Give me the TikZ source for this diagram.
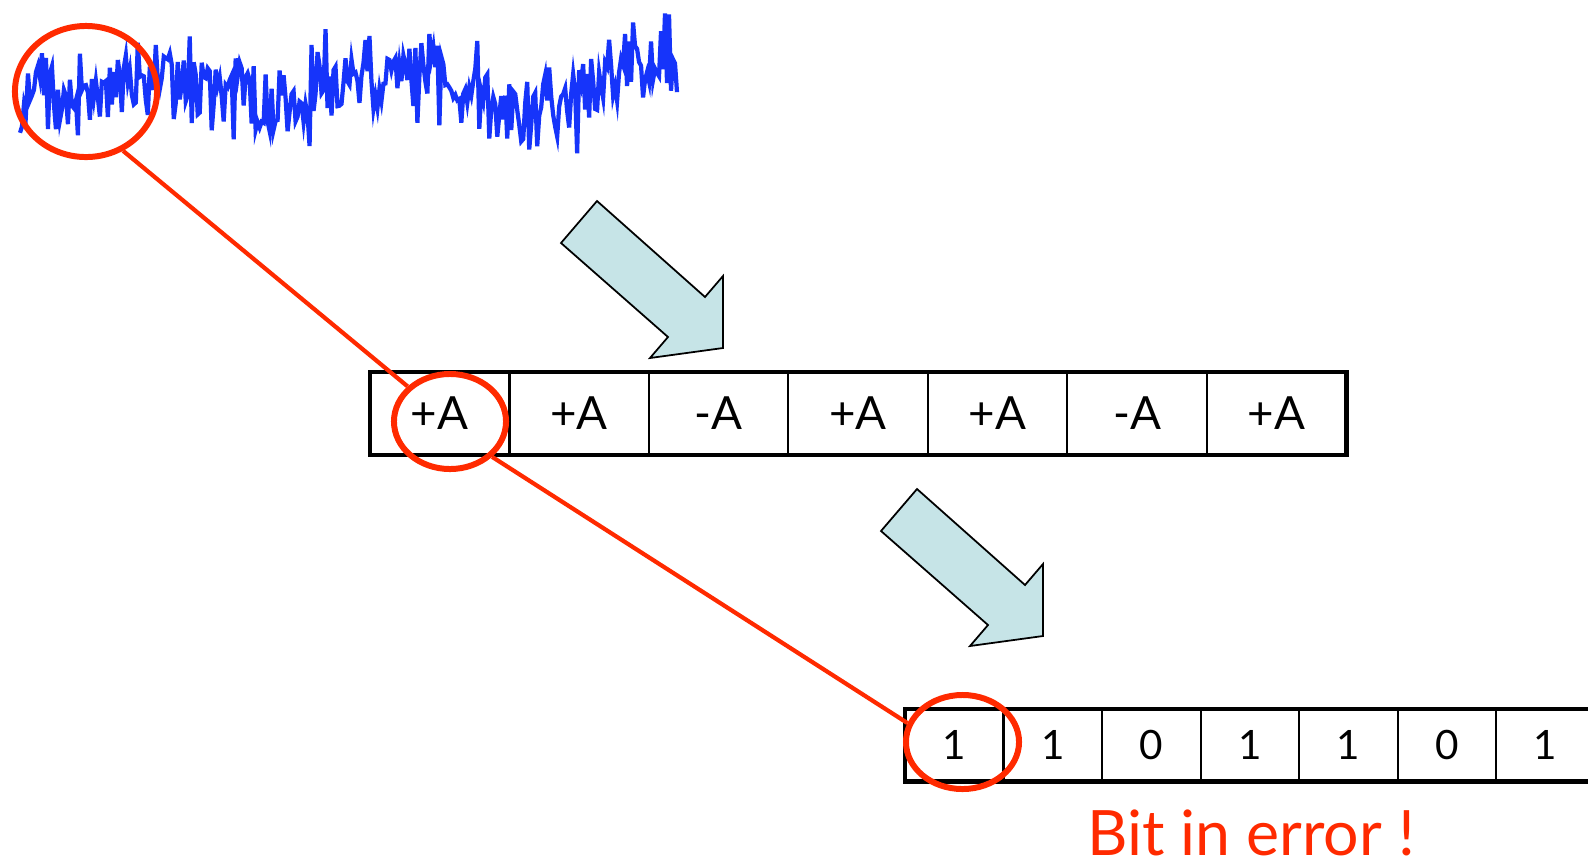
\documentclass[tikz,border=0pt]{standalone}
\usepackage{fontspec}
\setmainfont{Lato}
\usetikzlibrary{positioning,shapes.geometric,fit}
\definecolor{noiseblue}{HTML}{1634FA}
\definecolor{alarm}{HTML}{FF2A00}
\definecolor{paleteal}{HTML}{C6E4E7}
\tikzset{
  symcell/.style={draw,line width=0.6pt,outer sep=0pt,inner sep=0pt,
    minimum width=1.394cm,minimum height=0.83cm,font=\fontsize{13}{15}\selectfont},
  bitcell/.style={symcell,minimum width=0.985cm,minimum height=0.72cm,
    font=\fontsize{11.5}{13}\selectfont},
  rowframe/.style={draw,line width=1.4pt,inner sep=0pt},
  ring/.style={ellipse,draw=alarm,line width=1.7pt,inner sep=0pt},
  zoomline/.style={draw=alarm,line width=1.2pt},
  signal/.style={draw=noiseblue,line width=1.2pt},
  fatarrow/.style={draw,fill=paleteal,line width=0.5pt,line join=miter},
  pics/stepdown/.style={code={
    \draw[fatarrow] (0,0) -- (36,-42) -- (144,54) -- (162,33) -- (162,105)
      -- (89,115) -- (107,94) -- cycle;}}
}

\begin{document}
\begin{tikzpicture}[x=0.01cm,y=-0.01cm]
  \clip (0,0) rectangle (1588,866);

  % received noisy waveform
  \pgfmathsetseed{7}
  \draw[signal] plot[domain=20:677,samples=330,variable=\t]
    (\t,{88-(6+0.03*\t)*sin(1.41176*(\t-341))+20*(rand+rand+rand+rand)});

  % decision steps
  \pic at (561,243) {stepdown};
  \pic at (881,531) {stepdown};

  % detected symbols
  \node[symcell] (sym1) at (439.7,413.5) {+A};
  \foreach \s [count=\i from 2] in {+A,-A,+A,+A,-A,+A} {
    \pgfmathtruncatemacro\prev{\i-1}
    \node[symcell,right=0pt of sym\prev] (sym\i) {\s};
  }
  \node[rowframe,fit=(sym1)(sym7)] (symrow) {};

  % decoded bits
  \node[bitcell] (bit1) at (954.25,745) {1};
  \foreach \b [count=\i from 2] in {1,0,1,1,0,1} {
    \pgfmathtruncatemacro\prev{\i-1}
    \node[bitcell,right=0pt of bit\prev] (bit\i) {\b};
  }
  \node[rowframe,fit=(bit1)(bit7)] (bitrow) {};

  % the wrong decision, followed down
  \node[ring,minimum width=1.42cm,minimum height=1.31cm] (noiseRing) at (86,91.5) {};
  \node[ring,minimum width=1.12cm,minimum height=0.95cm] (symRing) at (450,421.5) {};
  \node[ring,minimum width=1.13cm,minimum height=0.94cm] (bitRing) at (962.5,742) {};
  \draw[zoomline] (noiseRing.-58) -- (symRing);
  \draw[zoomline] (symRing.-40) -- (bitRing.161);

  \node[anchor=base,inner sep=0pt,text=alarm,font=\fontsize{17.8}{20}\selectfont] (errmsg)
    at (1251,855) {Bit in error !};
\end{tikzpicture}
\end{document}
